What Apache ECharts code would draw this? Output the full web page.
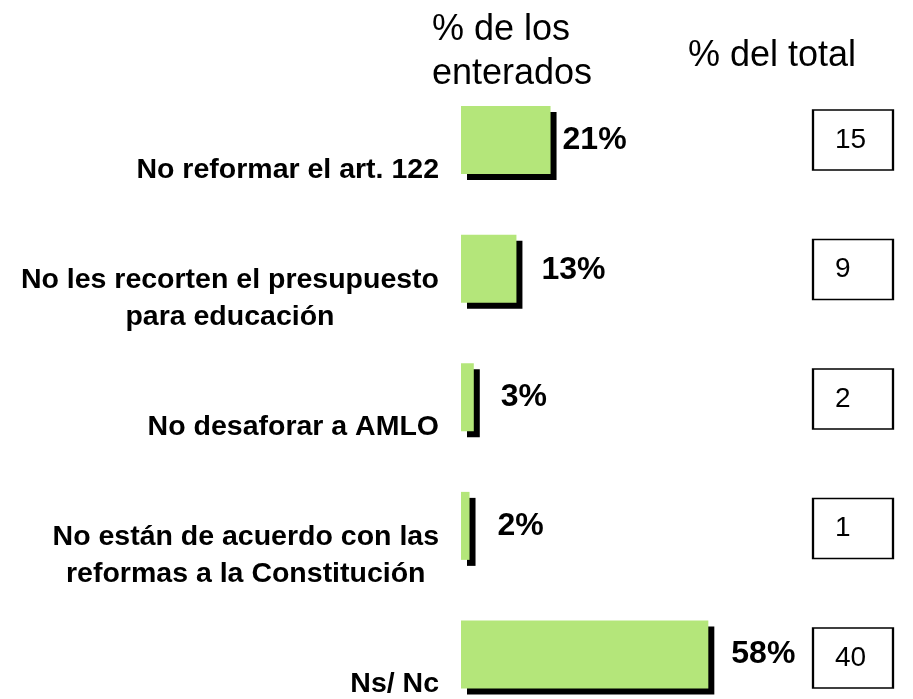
<!DOCTYPE html>
<html>
<head>
<meta charset="utf-8">
<script src="https://cdn.jsdelivr.net/npm/echarts@6/dist/echarts.min.js"></script>
<style>
html,body{margin:0;padding:0;background:#fff;}
#chart{width:913px;height:699px;}
</style>
</head>
<body>
<div id="chart"></div>
<script>
// ---- data ----
const categories = [
  'No reformar el art. 122',
  'No les recorten el presupuesto\npara educación',
  'No desaforar a AMLO',
  'No están de acuerdo con las\nreformas a la Constitución',
  'Ns/ Nc'
];
const pctInformed = [21, 13, 3, 2, 58];
const pctTotal = [15, 9, 2, 1, 40];
const headerInformed = '% de los\nenterados';
const headerTotal = '% del total';

// ---- layout / style ----
const FONT = '"Liberation Sans", Arial, sans-serif';
const labelNudges = [[-13, 0], [0, 2], [2, 0], [3, 0], [-2, 0]];
const gridTop = 140, gridHeight = 518;

const chart = echarts.init(document.getElementById('chart'), null, {renderer: 'canvas'});

const option = {
  animation: false,
  backgroundColor: '#fff',
  textStyle: {fontFamily: FONT},
  grid: [
    {left: 461, top: gridTop, width: 452, height: gridHeight, containLabel: false},
    {left: 813, top: gridTop, width: 80, height: gridHeight, containLabel: false}
  ],
  xAxis: [
    {gridIndex: 0, type: 'value', min: 0, max: 106, show: false},
    {gridIndex: 1, type: 'category', data: ['total'], show: false}
  ],
  yAxis: [
    {
      gridIndex: 0, type: 'category', data: categories, inverse: true, boundaryGap: false,
      axisLine: {show: false}, axisTick: {show: false}, splitLine: {show: false},
      axisLabel: {
        margin: 22,
        align: 'right',
        padding: [60, 0, 0, 0],
        formatter: v => v.split('\n').map(l => '{c|' + l + '}').join('\n'),
        rich: {
          c: {align: 'center', fontSize: 28.5, fontWeight: 'bold', color: '#000', lineHeight: 37, fontFamily: FONT}
        }
      }
    },
    {gridIndex: 1, type: 'category', data: categories, inverse: true, boundaryGap: false, show: false}
  ],
  series: [
    {
      type: 'bar',
      xAxisIndex: 0, yAxisIndex: 0,
      barWidth: 68,
      clip: false,
      data: pctInformed.map((v, i) => ({value: v, label: {offset: labelNudges[i]}})),
      itemStyle: {
        color: '#b4e67a',
        shadowColor: '#000',
        shadowBlur: 0,
        shadowOffsetX: 6,
        shadowOffsetY: 6
      },
      label: {
        show: true, position: 'right', distance: 25,
        formatter: p => p.value + '%',
        fontSize: 32, fontWeight: 'bold', color: '#000', fontFamily: FONT
      },
      emphasis: {disabled: true}
    },
    {
      type: 'scatter',
      xAxisIndex: 1, yAxisIndex: 1,
      symbol: 'rect',
      symbolSize: [80, 60],
      clip: false,
      data: pctTotal.map((v, i) => ['total', categories[i], v]),
      itemStyle: {color: '#fff', borderColor: '#000', borderWidth: 2, opacity: 1},
      label: {
        show: true, position: 'inside', align: 'left', offset: [-18, 0],
        formatter: p => String(p.value[2]),
        fontSize: 28, color: '#000', fontFamily: FONT
      },
      emphasis: {disabled: true}
    }
  ],
  graphic: [
    {type: 'text', x: 432, y: 52, style: {text: headerInformed, font: '36px ' + FONT, fill: '#000', align: 'left', verticalAlign: 'middle', lineHeight: 44}},
    {type: 'text', x: 688, y: 56, style: {text: headerTotal, font: '36px ' + FONT, fill: '#000', align: 'left', verticalAlign: 'middle'}}
  ]
};
chart.setOption(option);
</script>
</body>
</html>
